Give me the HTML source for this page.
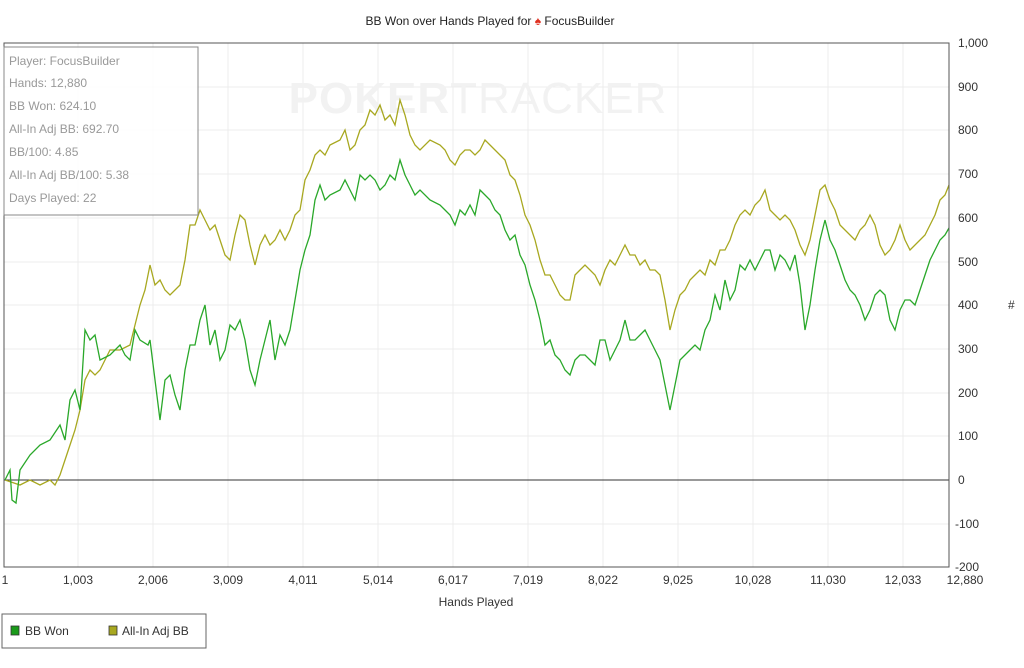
<!DOCTYPE html>
<html><head><meta charset="utf-8"><style>
body{margin:0;background:#fff;}
svg{display:block;font-family:"Liberation Sans",sans-serif;}
</style></head><body>
<svg width="1024" height="668" viewBox="0 0 1024 668">
<rect width="1024" height="668" fill="#fff"/>
<text x="490" y="25" font-size="12" text-anchor="middle" fill="#222">BB Won over Hands Played for <tspan fill="#e03020">♠</tspan> FocusBuilder</text>
<g stroke="#ececec" stroke-width="1">
<line x1="78" y1="43" x2="78" y2="567"/><line x1="153" y1="43" x2="153" y2="567"/><line x1="228" y1="43" x2="228" y2="567"/><line x1="303" y1="43" x2="303" y2="567"/><line x1="378" y1="43" x2="378" y2="567"/><line x1="453" y1="43" x2="453" y2="567"/><line x1="528" y1="43" x2="528" y2="567"/><line x1="603" y1="43" x2="603" y2="567"/><line x1="678" y1="43" x2="678" y2="567"/><line x1="753" y1="43" x2="753" y2="567"/><line x1="828" y1="43" x2="828" y2="567"/><line x1="903" y1="43" x2="903" y2="567"/>
<line x1="4" y1="87" x2="949" y2="87"/><line x1="4" y1="130" x2="949" y2="130"/><line x1="4" y1="174" x2="949" y2="174"/><line x1="4" y1="218" x2="949" y2="218"/><line x1="4" y1="262" x2="949" y2="262"/><line x1="4" y1="305" x2="949" y2="305"/><line x1="4" y1="349" x2="949" y2="349"/><line x1="4" y1="393" x2="949" y2="393"/><line x1="4" y1="436" x2="949" y2="436"/><line x1="4" y1="524" x2="949" y2="524"/>
</g>
<text x="478" y="113" font-size="44" font-weight="bold" fill="#f2f2f2" text-anchor="middle" letter-spacing="1">POKER<tspan font-weight="normal">TRACKER</tspan></text>
<line x1="4" y1="480" x2="949" y2="480" stroke="#333" stroke-width="1"/>
<polyline fill="none" stroke="#a8a820" stroke-width="1.3" points="5,480 20,485 30,480 40,485 50,480 55,485 60,475 65,460 70,445 75,430 80,410 85,380 90,370 95,375 100,370 110,350 120,350 130,345 140,305 145,290 150,265 155,285 160,280 165,290 170,295 175,290 180,285 185,260 190,225 195,225 200,210 205,220 210,230 215,225 220,240 225,255 230,260 235,235 240,215 245,220 250,245 255,265 260,245 265,235 270,245 275,240 280,230 285,240 290,230 295,215 300,210 305,180 310,170 315,155 320,150 325,155 330,145 340,140 345,130 350,150 355,145 360,130 365,125 370,110 375,115 380,105 385,120 390,115 395,125 400,100 405,115 410,135 415,145 420,150 430,140 440,145 445,150 450,160 455,165 460,155 465,150 470,150 475,155 480,150 485,140 490,145 495,150 500,155 505,160 510,175 515,180 520,195 525,215 530,225 535,240 540,260 545,275 550,275 555,285 560,295 565,300 570,300 575,275 580,270 585,265 590,270 595,275 600,285 605,270 610,260 615,265 620,255 625,245 630,255 635,255 640,265 645,260 650,270 655,270 660,275 665,300 670,330 675,310 680,295 685,290 690,280 695,275 700,270 705,275 710,260 715,265 720,250 725,250 730,240 735,225 740,215 745,210 750,215 755,205 760,200 765,190 770,210 775,215 780,220 785,215 790,220 795,230 800,245 805,255 810,240 815,215 820,190 825,185 830,200 835,210 840,225 845,230 850,235 855,240 860,230 865,225 870,215 875,225 880,245 885,255 890,250 895,240 900,225 905,240 910,250 915,245 920,240 925,235 930,225 935,215 940,200 945,195 949,185"/>
<polyline fill="none" stroke="#2aa82a" stroke-width="1.3" points="5,480 10,470 12,500 16,503 20,470 30,455 40,445 50,440 60,425 65,440 70,400 75,390 80,410 85,330 90,340 95,335 100,360 110,355 120,345 125,355 130,360 135,330 140,340 148,345 150,340 155,380 160,420 165,380 170,375 175,395 180,410 185,370 190,345 195,345 200,320 205,305 210,345 215,330 220,360 225,350 230,325 235,330 240,320 245,340 250,370 255,385 260,360 265,340 270,320 275,360 280,335 285,345 290,330 295,300 300,270 305,250 310,235 315,200 320,185 325,200 330,195 340,190 345,180 350,190 355,200 360,175 365,180 370,175 375,180 380,190 385,185 390,175 395,180 400,160 405,175 410,185 415,195 420,190 430,200 440,205 445,210 450,215 455,225 460,210 465,215 470,205 475,215 480,190 485,195 490,200 495,210 500,215 505,230 510,240 515,235 520,255 525,265 530,285 535,300 540,320 545,345 550,340 555,355 560,360 565,370 570,375 575,360 580,355 585,355 590,360 595,365 600,340 605,340 610,360 615,350 620,340 625,320 630,340 635,340 640,335 645,330 650,340 655,350 660,360 665,385 670,410 675,385 680,360 685,355 690,350 695,345 700,350 705,330 710,320 715,295 720,310 725,280 730,300 735,290 740,265 745,270 750,260 755,270 760,260 765,250 770,250 775,270 780,255 785,260 790,270 795,255 800,285 805,330 810,305 815,270 820,240 825,220 830,240 835,250 840,265 845,280 850,290 855,295 860,305 865,320 870,310 875,295 880,290 885,295 890,320 895,330 900,310 905,300 910,300 915,305 920,290 925,275 930,260 935,250 940,240 945,235 949,228"/>
<rect x="4" y="43" width="945" height="524" fill="none" stroke="#555" stroke-width="1"/>
<rect x="4" y="47" width="194" height="168" fill="#fff" fill-opacity="0.85" stroke="#888"/>
<g font-size="12" fill="#999">
<text x="9" y="65">Player: FocusBuilder</text><text x="9" y="87">Hands: 12,880</text><text x="9" y="110">BB Won: 624.10</text><text x="9" y="133">All-In Adj BB: 692.70</text><text x="9" y="156">BB/100: 4.85</text><text x="9" y="179">All-In Adj BB/100: 5.38</text><text x="9" y="202">Days Played: 22</text>
</g>
<g font-size="12" fill="#333">
<text x="958" y="47">1,000</text><text x="958" y="91">900</text><text x="958" y="134">800</text><text x="958" y="178">700</text><text x="958" y="222">600</text><text x="958" y="266">500</text><text x="958" y="309">400</text><text x="958" y="353">300</text><text x="958" y="397">200</text><text x="958" y="440">100</text><text x="958" y="484">0</text><text x="955" y="528">-100</text><text x="955" y="571">-200</text>
<text x="1008" y="309">#</text>
</g>
<g font-size="12" fill="#333" text-anchor="middle">
<text x="5" y="584">1</text><text x="78" y="584">1,003</text><text x="153" y="584">2,006</text><text x="228" y="584">3,009</text><text x="303" y="584">4,011</text><text x="378" y="584">5,014</text><text x="453" y="584">6,017</text><text x="528" y="584">7,019</text><text x="603" y="584">8,022</text><text x="678" y="584">9,025</text><text x="753" y="584">10,028</text><text x="828" y="584">11,030</text><text x="903" y="584">12,033</text><text x="965" y="584">12,880</text>
<text x="476" y="606">Hands Played</text>
</g>
<rect x="2" y="614" width="204" height="34" fill="#fff" stroke="#666"/>
<rect x="11" y="626" width="8" height="9" fill="#1a9a1a" stroke="#333" stroke-width="0.8"/>
<text x="25" y="635" font-size="12" fill="#333">BB Won</text>
<rect x="109" y="626" width="8" height="9" fill="#a8a820" stroke="#333" stroke-width="0.8"/>
<text x="122" y="635" font-size="12" fill="#333">All-In Adj BB</text>
</svg>
</body></html>
